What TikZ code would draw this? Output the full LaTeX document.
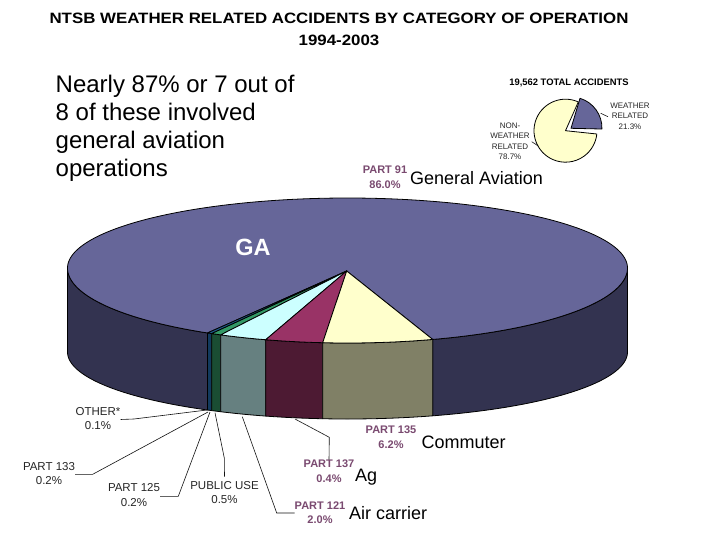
\documentclass[tikz,border=0pt]{standalone}
\usepackage{fontspec}
\setmainfont{Liberation Sans}
\newfontfamily\titlefont[FakeStretch=1.124]{Liberation Sans}
\definecolor{gatop}{HTML}{666699}
\definecolor{gaside}{HTML}{333350}
\definecolor{bluetop}{HTML}{1F5A8C}
\definecolor{blueside}{HTML}{123A5E}
\definecolor{greentop}{HTML}{339966}
\definecolor{greenside}{HTML}{1A4D33}
\definecolor{cyantop}{HTML}{CCFFFF}
\definecolor{cyanside}{HTML}{668080}
\definecolor{purpletop}{HTML}{993366}
\definecolor{purpleside}{HTML}{4D1A33}
\definecolor{yellowtop}{HTML}{FFFFCC}
\definecolor{yellowside}{HTML}{808066}
\definecolor{partcol}{HTML}{7A4A70}
\definecolor{leadcol}{HTML}{111111}
\tikzset{
  edge/.style={draw=black,line width=0.8pt,line join=round},
  lead/.style={draw=leadcol,line width=0.6pt},
  graylabel/.style={font=\fontsize{11.5}{14.5}\selectfont,align=center,text=black!85,inner sep=0pt},
  partlabel/.style={font=\bfseries\fontsize{11}{14.5}\selectfont,align=center,text=partcol,inner sep=0pt},
  smalllabel/.style={font=\fontsize{8}{10.5}\selectfont,align=center,inner sep=0pt,text=black!85},
  biglabel/.style={font=\fontsize{18}{20}\selectfont,inner sep=0pt,anchor=west},
}
% rim functions in pixel space
\pgfmathdeclarefunction{rimtop}{1}{\pgfmathparse{268+75*sqrt(max(0,1-((#1-347.5)/280)^2))}}
\pgfmathdeclarefunction{rimbot}{1}{\pgfmathparse{352+67*sqrt(max(0,1-((#1-347.5)/280)^2))}}
% side panel between two x values
\newcommand{\sidepanel}[3]{%
  \filldraw[edge,fill=#3] plot[domain=#1:#2,samples=24,smooth] (\x,{rimtop(\x)}) --
    plot[domain=#2:#1,samples=24,smooth] (\x,{rimbot(\x)}) -- cycle;}
% outer side panel between two angles on the rim
\newcommand{\outerpanel}[2]{%
  \filldraw[edge,fill=gaside] plot[domain=#1:#2,samples=50] ({347.5+280*cos(\x)},{268+75*sin(\x)}) --
    plot[domain=#2:#1,samples=50] ({347.5+280*cos(\x)},{352+67*sin(\x)}) -- cycle;}
\newcommand{\topwedge}[3]{%
  \filldraw[edge,fill=#3] (apex) -- plot[domain=#1:#2,samples=12,smooth] (\x,{rimtop(\x)}) -- cycle;}
\begin{document}
\begin{tikzpicture}[x=1pt,y=-1pt]
\useasboundingbox[fill=white] (0,0) rectangle (720,540);
\coordinate (apex) at (346.7,271);
% sides
\outerpanel{180}{120}
\outerpanel{0}{72.28}
\sidepanel{207.5}{211.7}{blueside}
\sidepanel{211.7}{220.7}{greenside}
\sidepanel{220.7}{265.7}{cyanside}
\sidepanel{265.7}{322.7}{purpleside}
\sidepanel{322.7}{432.7}{yellowside}
% top face of general aviation
\filldraw[edge,fill=gatop] (apex)
  -- plot[domain=72.28:0,samples=50] ({347.5+280*cos(\x)},{268+75*sin(\x)})
  -- plot[domain=0:-180,samples=140] ({347.5+280*cos(\x)},{268+70*sin(\x)})
  -- plot[domain=180:120,samples=50] ({347.5+280*cos(\x)},{268+75*sin(\x)}) -- cycle;
\topwedge{207.5}{211.7}{bluetop}
\topwedge{211.7}{220.7}{greentop}
\topwedge{220.7}{265.7}{cyantop}
\topwedge{265.7}{322.7}{purpletop}
\topwedge{322.7}{432.7}{yellowtop}
% title
\node[font=\titlefont\bfseries\fontsize{15}{22}\selectfont,align=center,inner sep=0pt] (title) at (339,29.5)
  {NTSB WEATHER RELATED ACCIDENTS BY CATEGORY OF OPERATION\\1994-2003};
\node[font=\fontsize{24}{28.3}\selectfont,align=left,anchor=north west,inner sep=0pt] (note) at (55.5,74.5)
  {Nearly 87\% or 7 out of\\8 of these involved\\general aviation\\operations};
% small pie
\coordinate (smallc) at (565.5,130.7);
\coordinate (smallb) at (571,128.3);
\filldraw[edge,fill=yellowtop] (smallc) -- ++(66:31.5 and -31.5) arc[start angle=-66,delta angle=-288,radius=31.5] -- cycle;
\filldraw[edge,fill=gatop] (smallb) -- (580,98.3) arc[start angle=-73,end angle=2,radius=31] -- cycle;
\node[font=\bfseries\fontsize{9.4}{10}\selectfont,inner sep=0pt] (total) at (569,82.5) {19,562 TOTAL ACCIDENTS};
\node[smalllabel] (wx) at (630,116) {WEATHER\\RELATED\\21.3\%};
\node[smalllabel] (nonwx) at (510,141) {NON-\\WEATHER\\RELATED\\78.7\%};
\coordinate (wxp) at (600.7,113.3);
\coordinate (nonp) at (538.3,146);
\draw[lead] (wxp) -- (608,116.7);
\draw[lead] (nonp) -- (531.7,141.7);
% big labels
\node[partlabel] (p91) at (385,177) {PART 91\\86.0\%};
\node[biglabel] (genav) at (410,178) {General Aviation};
\node[font=\bfseries\fontsize{23.5}{26}\selectfont,text=white,inner sep=0pt] (ga) at (253,247) {GA};
\node[partlabel] (p135) at (391,437) {PART 135\\6.2\%};
\node[biglabel] (comm) at (421.5,442) {Commuter};
\node[partlabel] (p137) at (329,471) {PART 137\\0.4\%};
\node[biglabel] (ag) at (355,477.5) {Ag};
\node[partlabel] (p121) at (320,512.5) {PART 121\\2.0\%};
\node[biglabel] (air) at (349,513) {Air carrier};
\node[graylabel] (other) at (98,418.5) {OTHER*\\0.1\%};
\node[graylabel] (p133) at (49,473.5) {PART 133\\0.2\%};
\node[graylabel] (p125) at (134,495) {PART 125\\0.2\%};
\node[graylabel] (pub) at (224.5,492.5) {PUBLIC USE\\0.5\%};
% leaders
\coordinate (lo) at (207,410);
\coordinate (l3) at (208,412);
\coordinate (l5) at (210,412);
\coordinate (lp) at (215,412.7);
\coordinate (l1) at (242.3,416.7);
\coordinate (l7) at (295,419);
\draw[lead] (other.east |- 0,419.5) -- (134,419) -- (lo);
\draw[lead] (p133.east |- 0,474.3) -- (92.7,474.3) -- (l3);
\draw[lead] (p125.east |- 0,496.3) -- (178.3,496.3) -- (l5);
\draw[lead] (pub.north |- 0,476.7) -- (224.3,458) -- (lp);
\draw[lead] (p121.west |- 0,513) -- (276.7,513) -- (l1);
\draw[lead] (p137.north) -- (329.3,437.3) -- (l7);
\end{tikzpicture}
\end{document}
